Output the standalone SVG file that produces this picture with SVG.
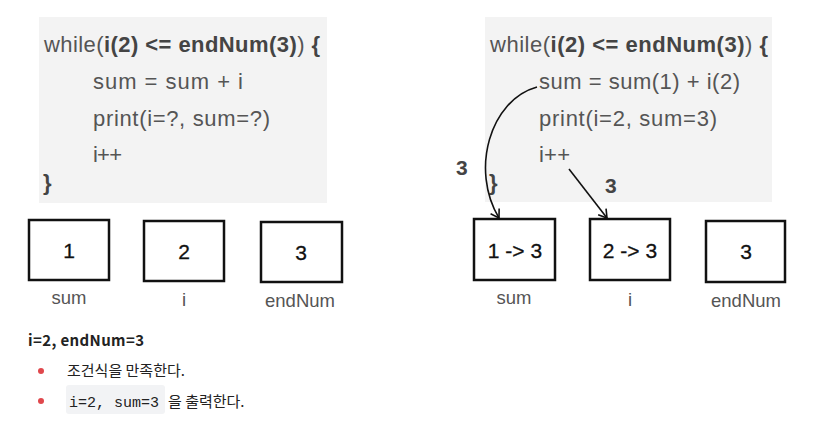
<svg xmlns="http://www.w3.org/2000/svg" width="830" height="430" viewBox="0 0 830 430">
<style>
.code{font-family:"Liberation Sans",Arial,sans-serif;font-size:22px;fill:#555}
.b{font-weight:bold;fill:#444}
.box{fill:#fff;stroke:#111;stroke-width:2.5}
.num{font-family:"Liberation Sans",Arial,sans-serif;font-size:21px;fill:#111;stroke:#111;stroke-width:0.3;text-anchor:middle}
.lbl{font-family:"Liberation Sans",Arial,sans-serif;font-size:18.5px;fill:#555;text-anchor:middle}
.big3{font-family:"Liberation Sans",Arial,sans-serif;font-size:21px;font-weight:bold;fill:#444}
.kr{font-family:"Noto Sans CJK KR","Noto Sans",sans-serif;font-size:15px;fill:#222}
.mono{font-family:"Liberation Mono","DejaVu Sans Mono",monospace;font-size:15px;fill:#222}
.conn{fill:none;stroke:#111;stroke-width:1.6}
</style>
<defs>
<marker id="ah" markerWidth="12" markerHeight="12" refX="10" refY="6" orient="auto" markerUnits="userSpaceOnUse">
<path d="M2,1 L10,6 L2,11" fill="none" stroke="#111" stroke-width="1.6"/>
</marker>
</defs>
<rect width="830" height="430" fill="#fff"/>

<g id="code-left">
<rect x="39" y="17" width="288" height="186" fill="#f3f3f3"/>
<text class="code" x="44" y="52" textLength="276" lengthAdjust="spacing">while(<tspan class="b">i(2) &lt;= endNum(3)</tspan>) <tspan class="b">{</tspan></text>
<text class="code" x="93" y="89" textLength="150" lengthAdjust="spacing">sum = sum + i</text>
<text class="code" x="93" y="126" textLength="177" lengthAdjust="spacing">print(i=?, sum=?)</text>
<text class="code" x="93" y="162" textLength="29" lengthAdjust="spacing">i++</text>
<text class="code b" x="43" y="190">}</text>
</g>

<g id="code-right">
<rect x="485" y="17" width="287" height="185" fill="#f3f3f3"/>
<text class="code" x="490" y="52" textLength="278" lengthAdjust="spacing">while(<tspan class="b">i(2) &lt;= endNum(3)</tspan>) <tspan class="b">{</tspan></text>
<text class="code" x="539" y="89" textLength="201" lengthAdjust="spacing">sum = sum(1) + i(2)</text>
<text class="code" x="539" y="126" textLength="178" lengthAdjust="spacing">print(i=2, sum=3)</text>
<text class="code" x="539" y="162" textLength="31" lengthAdjust="spacing">i++</text>
<text class="code b" x="489" y="190">}</text>
</g>

<g id="sum-left"><rect class="box" x="29" y="220" width="80" height="60"/><text class="num" x="69" y="258">1</text><text class="lbl" x="69" y="304">sum</text></g>
<g id="i-left"><rect class="box" x="144" y="221" width="80" height="60"/><text class="num" x="184" y="259">2</text><text class="lbl" x="184" y="306">i</text></g>
<g id="endNum-left"><rect class="box" x="261" y="222" width="81" height="60"/><text class="num" x="301" y="260">3</text><text class="lbl" x="300" y="307">endNum</text></g>

<g id="sum-right"><rect class="box" x="474" y="219" width="81" height="61"/><text class="num" x="515" y="258">1 -&gt; 3</text><text class="lbl" x="514" y="304">sum</text></g>
<g id="i-right"><rect class="box" x="590" y="219" width="80" height="61"/><text class="num" x="630" y="258">2 -&gt; 3</text><text class="lbl" x="630" y="306">i</text></g>
<g id="endNum-right"><rect class="box" x="706" y="221" width="79" height="61"/><text class="num" x="746" y="259">3</text><text class="lbl" x="746" y="307">endNum</text></g>

<g id="connectors">
<path class="conn" d="M537,87 C490,100 470,170 499,218" marker-end="url(#ah)"/>
<path class="conn" d="M569,169 L607,218" marker-end="url(#ah)"/>
</g>
<g id="labels">
<text class="big3" x="456" y="175">3</text>
<text class="big3" x="605" y="193">3</text>
</g>

<g id="notes">
<text class="kr" x="28" y="346" font-weight="bold" fill="#111" textLength="116" lengthAdjust="spacing">i=2, endNum=3</text>
<circle cx="41" cy="371" r="3" fill="#e0474c"/>
<text class="kr" x="67" y="376">조건식을 만족한다.</text>
<circle cx="41" cy="401" r="3" fill="#e0474c"/>
<rect x="66" y="385" width="99" height="29" rx="3" fill="#f2f3f5"/>
<text class="mono" x="69" y="407">i=2, sum=3</text>
<text class="kr" x="168" y="407">을 출력한다.</text>
</g>
</svg>
